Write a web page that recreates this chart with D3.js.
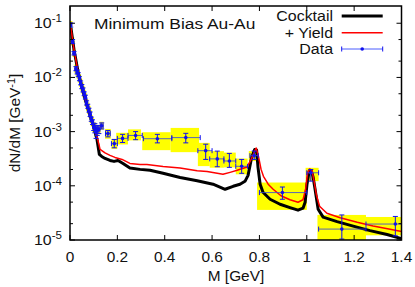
<!DOCTYPE html>
<html><head><meta charset="utf-8">
<script src="https://cdn.jsdelivr.net/npm/d3@7"></script>
<style>body{margin:0;background:#fff}text{font-family:"Liberation Sans",Arial,sans-serif;fill:#111}</style>
</head><body><svg id="c" width="415" height="287"></svg>
<script>
const xTicks=[0,0.2,0.4,0.6,0.8,1,1.2,1.4];
const xTickLabels=["0","0.2","0.4","0.6","0.8","1","1.2","1.4"];
const yTicks=[1e-1,1e-2,1e-3,1e-4,1e-5];
const yTickExp=["-1","-2","-3","-4","-5"];
const yMinorTicks=[5e-2,2e-2,5e-3,2e-3,5e-4,2e-4,5e-5,2e-5];

const cocktailM=[0.004,0.017,0.034,0.051,0.068,0.0845,0.101,0.114,0.124,0.134,0.148,0.169,0.186,0.203,0.224,0.253,0.296,0.338,0.393,0.465,0.537,0.604,0.655,0.689,0.718,0.739,0.752,0.767,0.780,0.788,0.794,0.803,0.815,0.845,0.887,0.929,0.963,0.984,0.993,1.001,1.010,1.020,1.027,1.035,1.048,1.069,1.128,1.196,1.267,1.339,1.400];
const cocktailY=[0.082,0.0323,0.0127,0.00647,0.00343,0.00198,0.00119,7.16e-4,3.79e-4,3.48e-4,3.20e-4,2.94e-4,2.82e-4,2.94e-4,2.59e-4,2.14e-4,2.01e-4,1.93e-4,1.70e-4,1.42e-4,1.24e-4,1.07e-4,8.63e-5,9.79e-5,1.07e-4,1.21e-4,1.56e-4,3.34e-4,4.69e-4,4.59e-4,2.19e-4,1.07e-4,7.60e-5,5.65e-5,4.57e-5,3.97e-5,3.55e-5,3.86e-5,4.97e-5,1.07e-4,1.85e-4,1.85e-4,1.43e-4,8.63e-5,3.70e-5,2.64e-5,2.18e-5,1.80e-5,1.49e-5,1.26e-5,1.06e-5];

const yieldM=[0.004,0.017,0.034,0.051,0.068,0.0845,0.101,0.114,0.127,0.148,0.169,0.190,0.220,0.253,0.296,0.325,0.393,0.465,0.537,0.579,0.646,0.676,0.706,0.748,0.765,0.786,0.796,0.807,0.817,0.837,0.858,0.891,0.929,0.963,0.984,0.995,1.003,1.012,1.022,1.031,1.041,1.054,1.085,1.141,1.213,1.280,1.352,1.400];
const yieldY=[0.082,0.0323,0.0127,0.00647,0.00343,0.00198,0.00116,8.13e-4,4.69e-4,4.04e-4,3.64e-4,3.34e-4,3.07e-4,2.59e-4,2.48e-4,2.48e-4,2.28e-4,2.14e-4,1.89e-4,1.83e-4,1.63e-4,1.77e-4,1.93e-4,2.23e-4,3.07e-4,5.00e-4,3.48e-4,2.01e-4,1.50e-4,1.07e-4,8.63e-5,6.55e-5,5.53e-5,4.97e-5,5.53e-5,8.63e-5,1.70e-4,2.05e-4,1.93e-4,1.21e-4,6.68e-5,4.20e-5,3.12e-5,2.58e-5,2.13e-5,1.82e-5,1.58e-5,1.43e-5];

const dataM=[0.003,0.011,0.017,0.025,0.030,0.035,0.040,0.045,0.050,0.055,0.060,0.065,0.070,0.075,0.080,0.085,0.090,0.095,0.100,0.105,0.110,0.115,0.122,0.134,0.160,0.187,0.222,0.277,0.369,0.489,0.573,0.622,0.673,0.725,0.778,0.897,1.017,1.148,1.374];
const dataY=[0.093,0.046,0.028,0.0145,0.0126,0.0112,0.0095,0.0079,0.0068,0.0059,0.0050,0.0043,0.0034,0.0029,0.0025,0.0021,0.0017,0.0015,0.00123,0.00118,0.00100,0.00108,0.00110,0.00128,9.2e-4,6.0e-4,7.5e-4,8.5e-4,7.4e-4,7.75e-4,4.45e-4,3.14e-4,2.87e-4,2.29e-4,3.6e-4,7.5e-5,1.74e-4,1.59e-5,1.97e-5];
const dataErrLo=[0.085,0.042,0.026,0.0133,0.0116,0.0103,0.0087,0.0073,0.0062,0.0054,0.0046,0.0040,0.0031,0.0027,0.0023,0.0019,0.00155,0.00135,0.00105,0.00095,0.00075,0.00085,0.00092,0.00112,8.0e-4,5.03e-4,6.3e-4,7.1e-4,6.2e-4,6.2e-4,3.07e-4,2.25e-4,2.19e-4,1.70e-4,3.07e-4,5.65e-5,1.22e-4,1.04e-5,1.19e-5];
const dataErrHi=[0.101,0.050,0.030,0.0158,0.0137,0.0122,0.0103,0.0086,0.0074,0.0064,0.0054,0.0047,0.0037,0.0032,0.0027,0.0023,0.00185,0.00165,0.00143,0.00140,0.00122,0.00130,0.00128,0.00145,1.05e-3,7.16e-4,8.9e-4,1.0e-3,8.9e-4,9.3e-4,5.86e-4,4.37e-4,3.96e-4,3.07e-4,4.37e-4,9.5e-5,2.0e-4,2.9e-5,2.72e-5];
const dataBinLo=[0,0.007,0.013,0.021,0.026,0.031,0.036,0.041,0.046,0.051,0.056,0.061,0.066,0.071,0.076,0.081,0.086,0.091,0.096,0.101,0.106,0.111,0.118,0.128,0.150,0.175,0.20,0.245,0.31,0.43,0.54,0.59,0.65,0.70,0.76,0.80,1.00,1.05,1.25];
const dataBinHi=[0.007,0.015,0.021,0.029,0.034,0.039,0.044,0.049,0.054,0.059,0.064,0.069,0.074,0.079,0.084,0.089,0.094,0.099,0.104,0.109,0.114,0.119,0.126,0.140,0.170,0.20,0.245,0.305,0.43,0.55,0.60,0.65,0.70,0.75,0.795,1.00,1.05,1.25,1.40];
const sysLo=[0.078,0.039,0.024,0.0122,0.0106,0.0095,0.0080,0.0067,0.0057,0.0050,0.0042,0.0036,0.0029,0.0024,0.0021,0.0018,0.00143,0.00125,0.00100,0.00095,0.00080,0.00088,0.00092,0.00108,7.4e-4,4.8e-4,5.8e-4,6.9e-4,4.55e-4,4.18e-4,2.31e-4,2.16e-4,2.19e-4,1.63e-4,2.86e-4,3.59e-5,1.22e-4,1.0e-5,1.22e-5];
const sysHi=[0.110,0.055,0.033,0.0172,0.0149,0.0133,0.0113,0.0094,0.0081,0.0070,0.0059,0.0051,0.0040,0.0034,0.0030,0.0025,0.0020,0.0018,0.00150,0.00145,0.00125,0.00132,0.00132,0.00152,1.12e-3,7.36e-4,9.5e-4,1.1e-3,9.75e-4,1.17e-3,6.2e-4,4.37e-4,4.1e-4,3.18e-4,4.37e-4,1.15e-4,2.15e-4,2.9e-5,2.66e-5];
const sysXLo=[0,0.004,0.010,0.018,0.023,0.028,0.033,0.038,0.043,0.048,0.053,0.058,0.063,0.068,0.073,0.078,0.083,0.088,0.093,0.098,0.103,0.108,0.115,0.126,0.148,0.175,0.195,0.245,0.305,0.425,0.54,0.59,0.65,0.70,0.755,0.79,0.995,1.045,1.25];
const sysXHi=[0.010,0.018,0.024,0.032,0.037,0.042,0.047,0.052,0.057,0.062,0.067,0.072,0.077,0.082,0.087,0.092,0.097,0.102,0.107,0.112,0.117,0.122,0.129,0.142,0.172,0.20,0.245,0.30,0.425,0.545,0.59,0.65,0.70,0.75,0.79,1.0,1.05,1.25,1.40];

const legendLabels=["Cocktail","+ Yield","Data"];
const titleText="Minimum Bias Au-Au";

const L=70,R=401.5,T=6,B=240, SX=1.1;
const svg=d3.select("#c");
const x=d3.scaleLinear().domain([0,1.4]).range([L,R]);
const y=d3.scaleLog().domain([1e-5,0.208]).range([B,T]);

svg.append("defs").append("clipPath").attr("id","clip").append("rect")
  .attr("x",L).attr("y",T).attr("width",R-L).attr("height",B-T);
const plot=svg.append("g").attr("clip-path","url(#clip)");

const idx=d3.range(dataM.length);
plot.append("g").selectAll("rect").data(idx).join("rect")
  .attr("x",i=>x(sysXLo[i])).attr("width",i=>x(sysXHi[i])-x(sysXLo[i]))
  .attr("y",i=>y(sysHi[i])).attr("height",i=>y(sysLo[i])-y(sysHi[i]))
  .attr("fill","#ffff00");

const line=(mx,my)=>d3.line().x(i=>x(mx[i])).y(i=>y(my[i]))(d3.range(mx.length));
plot.append("path").attr("d",line(cocktailM,cocktailY)).attr("fill","none")
  .attr("stroke","#000").attr("stroke-width",3).attr("stroke-linejoin","round");
plot.append("path").attr("d",line(yieldM,yieldY)).attr("fill","none")
  .attr("stroke","#ff0000").attr("stroke-width",1.5).attr("stroke-linejoin","round");

const blue="#1010ee", cap=2.5;
const dg=plot.append("g").attr("stroke",blue).attr("stroke-width",1).attr("fill","none");
idx.forEach(i=>{
  const cx=x(dataM[i]), cy=y(dataY[i]);
  const x0=x(dataBinLo[i]), x1=x(dataBinHi[i]);
  dg.append("line").attr("x1",x0).attr("x2",x1).attr("y1",cy).attr("y2",cy).attr("stroke","#3a4ad8").attr("opacity",0.85);
  dg.append("line").attr("x1",x0).attr("x2",x0).attr("y1",cy-cap).attr("y2",cy+cap);
  dg.append("line").attr("x1",x1).attr("x2",x1).attr("y1",cy-cap).attr("y2",cy+cap);
  const y0=y(dataErrLo[i]), y1=y(dataErrHi[i]);
  dg.append("line").attr("x1",cx).attr("x2",cx).attr("y1",y0).attr("y2",y1);
  dg.append("line").attr("x1",cx-cap).attr("x2",cx+cap).attr("y1",y0).attr("y2",y0);
  dg.append("line").attr("x1",cx-cap).attr("x2",cx+cap).attr("y1",y1).attr("y2",y1);
  dg.append("circle").attr("cx",cx).attr("cy",cy).attr("r",1.8).attr("fill",blue).attr("stroke","none");
});

svg.append("rect").attr("x",L).attr("y",T).attr("width",R-L).attr("height",B-T)
  .attr("fill","none").attr("stroke","#000").attr("stroke-width",1.5);

const tk=svg.append("g").attr("stroke","#000").attr("stroke-width",1);
xTicks.forEach(v=>{
  tk.append("line").attr("x1",x(v)).attr("x2",x(v)).attr("y1",B).attr("y2",B-5);
  tk.append("line").attr("x1",x(v)).attr("x2",x(v)).attr("y1",T).attr("y2",T+5);
});
yTicks.forEach(v=>{
  tk.append("line").attr("x1",L).attr("x2",L+5).attr("y1",y(v)).attr("y2",y(v));
  tk.append("line").attr("x1",R).attr("x2",R-5).attr("y1",y(v)).attr("y2",y(v));
});
yMinorTicks.forEach(v=>{
  tk.append("line").attr("x1",L).attr("x2",L+3).attr("y1",y(v)).attr("y2",y(v));
  tk.append("line").attr("x1",R).attr("x2",R-3).attr("y1",y(v)).attr("y2",y(v));
});

function txt(xp,yp,s,anchor,size,sx){
  return svg.append("text").attr("transform",`translate(${xp},${yp}) scale(${sx||SX},1)`)
    .attr("text-anchor",anchor).attr("font-size",size).text(s);
}
xTicks.forEach((v,i)=>txt(x(v),262,xTickLabels[i],"middle",14));
yTicks.forEach((v,i)=>{
  const t=svg.append("text").attr("transform",`translate(${L-8},${y(v)+5}) scale(${SX},1)`)
    .attr("text-anchor","end").attr("font-size",14.5);
  t.append("tspan").text("10");
  t.append("tspan").attr("dy",-6).attr("font-size",10.5).text(yTickExp[i]);
});
txt(236,281,"M [GeV]","middle",14);
{
  const t=svg.append("text").attr("transform",`translate(20,123) rotate(-90) scale(${SX},1)`)
    .attr("text-anchor","middle").attr("font-size",14);
  t.append("tspan").text("dN/dM [GeV");
  t.append("tspan").attr("dy",-5).attr("font-size",10).text("-1");
  t.append("tspan").attr("dy",5).text("]");
}
txt(94,29,titleText,"start",14.5,1.2);

const ly=[16,32.7,49], lx0=341.7, lx1=382.7;
legendLabels.forEach((s,i)=>txt(333,ly[i]+5,s,"end",14.5));
svg.append("line").attr("x1",lx0).attr("x2",lx1).attr("y1",ly[0]).attr("y2",ly[0]).attr("stroke","#000").attr("stroke-width",3);
svg.append("line").attr("x1",lx0).attr("x2",lx1).attr("y1",ly[1]).attr("y2",ly[1]).attr("stroke","#ff0000").attr("stroke-width",1.5);
const lg=svg.append("g").attr("stroke",blue).attr("stroke-width",1);
lg.append("line").attr("x1",lx0).attr("x2",lx1).attr("y1",ly[2]).attr("y2",ly[2]).attr("stroke","#4a5cff");
lg.append("line").attr("x1",lx0).attr("x2",lx0).attr("y1",ly[2]-cap).attr("y2",ly[2]+cap);
lg.append("line").attr("x1",lx1).attr("x2",lx1).attr("y1",ly[2]-cap).attr("y2",ly[2]+cap);
svg.append("circle").attr("cx",(lx0+lx1)/2).attr("cy",ly[2]).attr("r",1.8).attr("fill",blue);
</script></body></html>
